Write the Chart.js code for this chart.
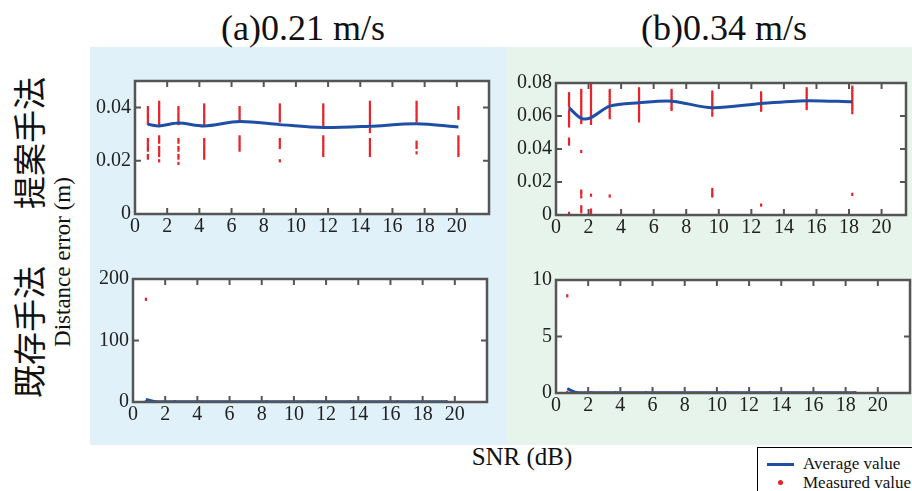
<!DOCTYPE html>
<html>
<head>
<meta charset="utf-8">
<script src="https://cdn.jsdelivr.net/npm/chart.js@4"></script>
<style>
  body { margin: 0; width: 912px; height: 491px; overflow: hidden; background: #fff; position: relative; font-family: 'Liberation Serif', 'Times New Roman', serif; color: #111; }
  .panel { position: absolute; top: 47px; height: 398px; }
  #panelA { left: 90px; width: 417px; background: #e0f1fa; }
  #panelB { left: 507px; width: 405px; background: #e6f4ec; }
  .plot { position: absolute; }
  .txt { position: absolute; white-space: nowrap; transform: translate(-50%, -50%); line-height: 1; }
  .vert { position: absolute; white-space: nowrap; transform: translate(-50%, -50%) rotate(-90deg); line-height: 1; }
  .jp { font-family: 'Noto Sans CJK JP', sans-serif; font-size: 33px; }
  #legend { position: absolute; left: 757px; top: 447px; width: 170px; height: 50px; border: 1.5px solid #000; background: #fff; font-size: 17px; }
  #legend .line { position: absolute; left: 9px; top: 15px; width: 27px; height: 3px; background: #1f4fa5; }
  #legend .dot { position: absolute; left: 20px; top: 32px; width: 5px; height: 5px; border-radius: 50%; background: #e8232b; }
  #legend .lab { position: absolute; left: 45px; line-height: 1; }
</style>
</head>
<body>
<div class="panel" id="panelA"></div>
<div class="panel" id="panelB"></div>

<div class="txt" style="left:303px;top:28px;font-size:36px;">(a)0.21 m/s</div>
<div class="txt" style="left:724px;top:28px;font-size:36px;">(b)0.34 m/s</div>
<div class="vert jp" style="left:28px;top:143px;">提案手法</div>
<div class="vert jp" style="left:28px;top:332px;">既存手法</div>
<div class="vert" style="left:62px;top:262px;font-size:23px;">Distance error (m)</div>
<div class="txt" style="left:522px;top:456px;font-size:25px;">SNR (dB)</div>

<div id="legend">
  <div class="line"></div>
  <div class="lab" style="top:7px;">Average value</div>
  <div class="dot"></div>
  <div class="lab" style="top:26px;">Measured value</div>
</div>

<script>
const xTicks = [0, 2, 4, 6, 8, 10, 12, 14, 16, 18, 20];

// (a) 0.21 m/s - proposed method
const snrA = [0.8, 1.5, 2.7, 4.3, 6.5, 9.0, 11.7, 14.6, 17.5, 20.1];
const avgA = [0.0337, 0.0331, 0.0342, 0.0331, 0.0348, 0.0336, 0.0325, 0.0330, 0.0339, 0.0327];
const measA = [
  [0.040, 0.039, 0.038, 0.037, 0.036, 0.035, 0.034, 0.028, 0.027, 0.026, 0.025, 0.024, 0.022, 0.021],
  [0.042, 0.041, 0.040, 0.039, 0.038, 0.037, 0.036, 0.035, 0.034, 0.029, 0.028, 0.027, 0.025, 0.024, 0.023, 0.022, 0.020],
  [0.040, 0.039, 0.038, 0.037, 0.036, 0.035, 0.034, 0.028, 0.027, 0.025, 0.024, 0.022, 0.021, 0.019],
  [0.041, 0.040, 0.039, 0.038, 0.037, 0.036, 0.035, 0.034, 0.028, 0.027, 0.026, 0.025, 0.024, 0.023, 0.022, 0.021],
  [0.040, 0.039, 0.038, 0.037, 0.036, 0.035, 0.029, 0.028, 0.027, 0.026, 0.025, 0.024],
  [0.041, 0.040, 0.039, 0.038, 0.037, 0.036, 0.035, 0.028, 0.027, 0.026, 0.025, 0.020],
  [0.041, 0.040, 0.039, 0.038, 0.037, 0.036, 0.035, 0.034, 0.033, 0.029, 0.028, 0.027, 0.026, 0.025, 0.024, 0.023, 0.022],
  [0.042, 0.041, 0.040, 0.039, 0.038, 0.037, 0.036, 0.035, 0.034, 0.032, 0.031, 0.028, 0.027, 0.026, 0.025, 0.024, 0.023, 0.022],
  [0.042, 0.041, 0.040, 0.039, 0.038, 0.037, 0.036, 0.035, 0.027, 0.026, 0.025, 0.023],
  [0.040, 0.039, 0.038, 0.037, 0.036, 0.029, 0.028, 0.027, 0.026, 0.025, 0.024, 0.023, 0.022]
];

// (b) 0.34 m/s - proposed method
const snrB = [0.8, 1.55, 2.15, 3.3, 5.1, 7.1, 9.6, 12.6, 15.4, 18.2];
const avgB = [0.065, 0.0586, 0.059, 0.066, 0.068, 0.069, 0.065, 0.0676, 0.0693, 0.0686];
const measB = [
  [0.0735, 0.072, 0.0705, 0.069, 0.0675, 0.066, 0.063, 0.0615, 0.060, 0.0585, 0.057, 0.0555, 0.054, 0.046, 0.0445, 0.043, 0.001],
  [0.0755, 0.074, 0.0725, 0.071, 0.0695, 0.068, 0.0665, 0.065, 0.0635, 0.062, 0.0605, 0.059, 0.0575, 0.056, 0.0385, 0.0145, 0.013, 0.011, 0.005, 0.0035, 0.002],
  [0.0795, 0.078, 0.0765, 0.075, 0.0735, 0.072, 0.0705, 0.069, 0.0675, 0.066, 0.0645, 0.063, 0.0615, 0.060, 0.0585, 0.057, 0.0555, 0.012, 0.003, 0.0015, 0.0005],
  [0.0755, 0.074, 0.0725, 0.071, 0.0695, 0.068, 0.0665, 0.065, 0.0635, 0.062, 0.0605, 0.059, 0.0115],
  [0.0765, 0.075, 0.0735, 0.072, 0.0705, 0.069, 0.0675, 0.066, 0.0645, 0.063, 0.0615, 0.060, 0.0585, 0.057],
  [0.0755, 0.074, 0.0725, 0.071, 0.0695, 0.068, 0.0665, 0.065, 0.064],
  [0.0745, 0.073, 0.0715, 0.070, 0.0685, 0.067, 0.0655, 0.064, 0.062, 0.0605, 0.0155, 0.014, 0.0125, 0.0115],
  [0.074, 0.0725, 0.071, 0.0695, 0.068, 0.0665, 0.065, 0.0635, 0.006],
  [0.0765, 0.075, 0.0735, 0.072, 0.0705, 0.069, 0.0675, 0.066, 0.0645],
  [0.0775, 0.076, 0.0745, 0.073, 0.0715, 0.070, 0.0685, 0.067, 0.0655, 0.064, 0.062, 0.0125]
];

// (a) 0.21 m/s - existing method
const snrC = [0.8, 1.4, 2.6, 8.3, 10.9, 13.5, 16.4, 19.5];
const avgC = [4, 0.6, 0.3, 0.3, 0.3, 0.3, 0.3, 0.3];
const measC = [[167, 0.5], [0.4], [0.3], [0.3], [0.3], [0.3], [0.3], [0.3]];

// (b) 0.34 m/s - existing method
const snrD = [0.7, 1.3, 2.2, 3.7, 5.6, 10.6, 13.3, 18.6];
const avgD = [0.38, 0.03, 0.02, 0.02, 0.02, 0.02, 0.02, 0.02];
const measD = [[8.6, 0.05], [0.03], [0.03], [0.03], [0.03], [0.03], [0.03], [0.03]];

const toPoints = (snr, meas) => snr.flatMap((x, i) => meas[i].map(y => ({ x, y })));

Chart.defaults.font.family = "'Liberation Serif', 'Times New Roman', serif";
Chart.defaults.font.size = 20;

// white plot area, dark frame and inward MATLAB-style ticks
const boxPlugin = {
  id: 'box',
  beforeDraw(chart) {
    const { ctx, chartArea: a } = chart;
    ctx.save();
    ctx.fillStyle = '#fff';
    ctx.fillRect(a.left, a.top, a.width, a.height);
    ctx.restore();
  },
  afterDraw(chart) {
    const { ctx, chartArea: a, scales: { x, y } } = chart;
    ctx.save();
    ctx.strokeStyle = '#555';
    ctx.lineWidth = 2;
    ctx.beginPath();
    x.ticks.forEach(t => {
      if (t.value <= x.min) return;
      const px = x.getPixelForValue(t.value);
      ctx.moveTo(px, a.top); ctx.lineTo(px, a.top + 6);
      ctx.moveTo(px, a.bottom); ctx.lineTo(px, a.bottom - 6);
    });
    y.ticks.forEach(t => {
      if (t.value <= y.min || t.value >= y.max) return;
      const py = y.getPixelForValue(t.value);
      ctx.moveTo(a.left, py); ctx.lineTo(a.left + 6, py);
      ctx.moveTo(a.right, py); ctx.lineTo(a.right - 6, py);
    });
    ctx.stroke();
    ctx.lineWidth = 2.5;
    ctx.strokeRect(a.left, a.top, a.width, a.height);
    ctx.restore();
  }
};

const tickFont = { family: "'Liberation Serif', 'Times New Roman', serif", size: 20 };

function makePlot(box, xMax, yMax, yTicks, snr, avg, meas) {
  const wrap = document.createElement('div');
  wrap.className = 'plot';
  wrap.style.left = (box.l - 50) + 'px';
  wrap.style.top = (box.t - 10) + 'px';
  const canvas = document.createElement('canvas');
  canvas.width = box.r - box.l + 60;
  canvas.height = box.b - box.t + 40;
  wrap.appendChild(canvas);
  document.body.appendChild(wrap);

  new Chart(canvas, {
    type: 'scatter',
    data: {
      datasets: [
        {
          type: 'line',
          label: 'Average value',
          data: snr.map((x, i) => ({ x, y: avg[i] })),
          borderColor: '#1f4fa5',
          borderWidth: 3,
          pointRadius: 0,
          tension: 0.3,
          order: 0
        },
        {
          label: 'Measured value',
          data: toPoints(snr, meas),
          pointStyle: 'line',
          rotation: 90,
          borderColor: '#e8232b',
          borderWidth: 2.2,
          pointRadius: 1.6,
          order: 1
        }
      ]
    },
    options: {
      responsive: false,
      animation: false,
      events: [],
      layout: { padding: { top: 10, right: 10, left: 0, bottom: 0 } },
      plugins: { legend: { display: false }, tooltip: { enabled: false } },
      scales: {
        x: {
          type: 'linear', min: 0, max: xMax,
          afterBuildTicks: s => { s.ticks = xTicks.map(v => ({ value: v })); },
          afterFit: s => { s.height = 30; },
          grid: { display: false, drawTicks: false },
          border: { display: false },
          ticks: { font: tickFont, color: '#222', padding: 1, maxRotation: 0, autoSkip: false }
        },
        y: {
          type: 'linear', min: 0, max: yMax,
          afterBuildTicks: s => { s.ticks = yTicks.map(v => ({ value: v })); },
          afterFit: s => { s.width = 50; },
          grid: { display: false, drawTicks: false },
          border: { display: false },
          ticks: { font: tickFont, color: '#222', padding: 4, autoSkip: false }
        }
      }
    },
    plugins: [boxPlugin]
  });
}

makePlot({ l: 135, t: 75, r: 489, b: 214 }, 22, 0.05, [0, 0.02, 0.04], snrA, avgA, measA);
makePlot({ l: 556, t: 77, r: 906, b: 215 }, 21.5, 0.08, [0, 0.02, 0.04, 0.06, 0.08], snrB, avgB, measB);
makePlot({ l: 133, t: 273, r: 487, b: 402 }, 22, 200, [0, 100, 200], snrC, avgC, measC);
makePlot({ l: 556, t: 274, r: 910, b: 393 }, 22, 10, [0, 5, 10], snrD, avgD, measD);
</script>
</body>
</html>
